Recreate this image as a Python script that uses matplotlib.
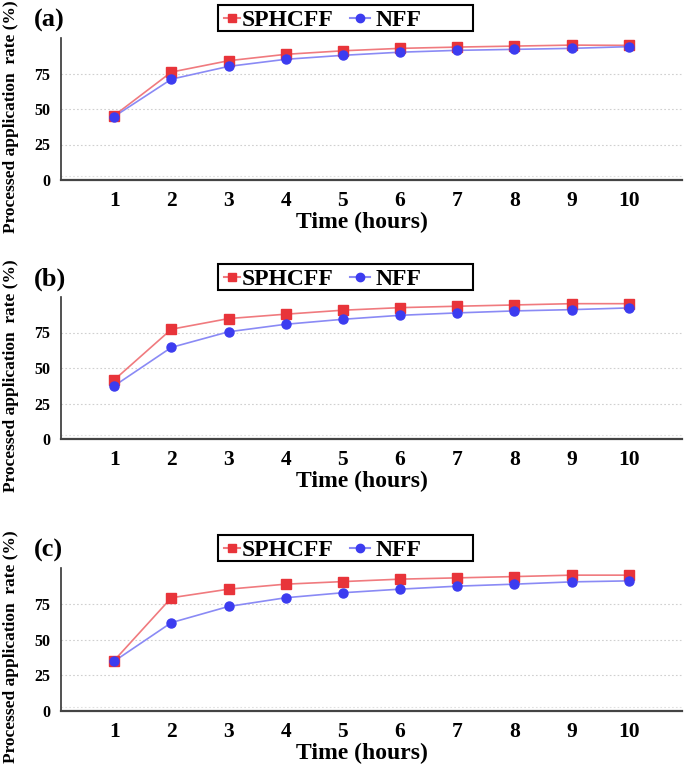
import matplotlib
matplotlib.use("Agg")
import matplotlib.pyplot as plt
from matplotlib.lines import Line2D
from matplotlib.patches import Rectangle

hours = [1, 2, 3, 4, 5, 6, 7, 8, 9, 10]
tick_labels = ["1", "2", "3", "4", "5", "6", "7", "8", "9", "10"]
panel_labels = ["(a)", "(b)", "(c)"]
series_names = ["SPHCFF", "NFF"]
sphcff = [
    [45.4, 76.0, 84.0, 88.5, 91.0, 92.7, 93.6, 94.3, 95.0, 94.8],
    [41.6, 77.3, 84.8, 87.9, 90.7, 92.5, 93.5, 94.4, 95.3, 95.3],
    [35.3, 79.2, 85.2, 88.7, 90.5, 92.2, 93.1, 94.0, 95.0, 95.0],
]
nff = [
    [44.7, 71.0, 80.0, 85.0, 87.8, 90.0, 91.3, 92.0, 92.7, 93.9],
    [37.4, 64.5, 75.5, 80.8, 84.3, 87.1, 88.8, 90.2, 91.1, 92.3],
    [34.8, 61.8, 73.1, 79.2, 82.7, 85.2, 87.3, 88.7, 90.3, 91.0],
]
yticks = [0, 25, 50, 75]

W, H = 685, 768
plt.rcParams['font.family'] = ['Liberation Serif', 'DejaVu Serif']
plt.rcParams['font.weight'] = 'bold'
fig = plt.figure(figsize=(W / 100, H / 100), dpi=100)

red = '#e8343a'
red_line = '#f07a7e'
blue = '#3c3cf0'
blue_line = '#8a8af5'


def fx(px):
    return px / W


def fy(py):
    return 1 - py / H


# (top of axes px, zero line px)
layouts = [(38, 180), (297, 439), (568, 711)]
left_px, right_px = 61, 682

for i, (top, bot) in enumerate(layouts):
    ax = fig.add_axes([fx(left_px), fy(bot), (right_px - left_px) / W, (bot - top) / H])
    ax.plot(hours, sphcff[i], color=red_line, lw=1.2, zorder=3)
    ax.plot(hours, sphcff[i], ls='none', marker='s', ms=6.5, color=red, zorder=4)
    ax.plot(hours, nff[i], color=blue_line, lw=1.2, zorder=3)
    ax.plot(hours, nff[i], ls='none', marker='o', ms=6.5, color=blue, zorder=4)
    ax.set_xlim(0.07, 10.93)
    ax.set_ylim(0, 100)
    ax.set_yticks(yticks)
    ax.set_xticks(hours)
    ax.set_xticklabels(tick_labels, fontsize=15.5, fontweight='bold')
    ax.set_yticklabels([str(t) for t in yticks], fontsize=11.5, fontweight='bold')
    for t in [25, 50, 75]:
        ax.axhline(t, color='#d0d0d0', lw=0.8, ls=(0, (1.5, 2)), zorder=1)
    ax.axhline(2.5, color='#e0e0e0', lw=0.8, ls=(0, (1.5, 2)), zorder=1)
    for s in ['top', 'right']:
        ax.spines[s].set_visible(False)
    ax.spines['left'].set_color('#333333')
    ax.spines['left'].set_linewidth(1.2)
    ax.spines['bottom'].set_color('#444444')
    ax.spines['bottom'].set_linewidth(1.6)
    ax.tick_params(axis='both', length=0)
    ax.tick_params(axis='y', pad=8)
    ax.tick_params(axis='x', pad=8)
    ax.set_xlabel("Time (hours)", fontsize=17, fontweight='bold', labelpad=0)
    ax.xaxis.set_label_coords((362 - left_px) / (right_px - left_px), -(212 - 180) / (bot - top))

    fig.text(fx(11), fy(top + 79), "Processed application  rate (%)",
             rotation=90, ha='center', va='center', fontsize=12.5, fontweight='bold')
    fig.text(fx(34), fy(top - 18), panel_labels[i], ha='left', va='center',
             fontsize=19, fontweight='bold')

    # legend box drawn manually
    lt, lb = top - 33, top - 7
    fig.add_artist(Rectangle((fx(218), fy(lb)), (473 - 218) / W, (lb - lt) / H,
                             transform=fig.transFigure, facecolor='white',
                             edgecolor='black', lw=1.5))
    cy = fy((lt + lb) / 2)
    fig.add_artist(Line2D([fx(224), fx(240)], [cy, cy], color=red_line, lw=1.5,
                          transform=fig.transFigure))
    fig.add_artist(Line2D([fx(232)], [cy], color=red, marker='s', ms=6,
                          transform=fig.transFigure))
    fig.add_artist(Line2D([fx(350), fx(370)], [cy, cy], color=blue_line, lw=1.5,
                          transform=fig.transFigure))
    fig.add_artist(Line2D([fx(360)], [cy], color=blue, marker='o', ms=6,
                          transform=fig.transFigure))
    fig.text(fx(242), cy, series_names[0], ha='left', va='center_baseline',
             fontsize=17, fontweight='bold')
    fig.text(fx(376), cy, series_names[1], ha='left', va='center_baseline',
             fontsize=17, fontweight='bold')

fig.savefig("out.png", dpi=100)
